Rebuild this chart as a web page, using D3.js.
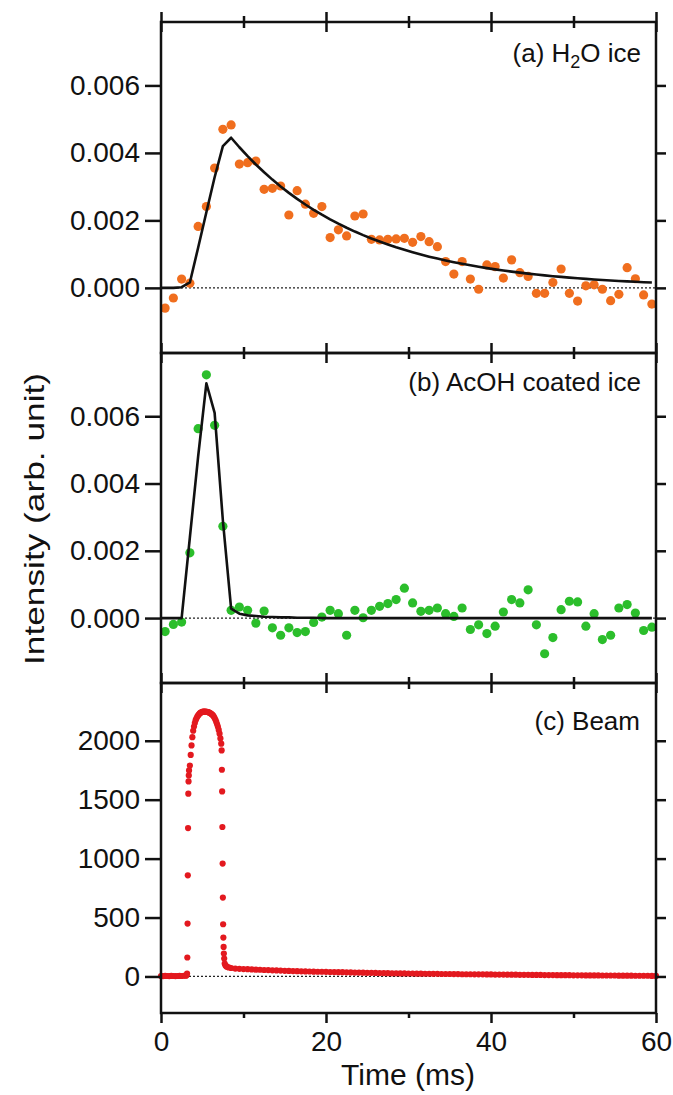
<!DOCTYPE html>
<html>
<head>
<meta charset="utf-8">
<script src="https://cdn.jsdelivr.net/npm/d3@7"></script>
<style>
  body { margin: 0; background: #fff; }
  text { font-family: Arial, "Liberation Sans", sans-serif; fill: #111; }
</style>
</head>
<body>
<div id="chart"></div>
<script>
// Data (time in ms)
const pointTime = [0.5, 1.5, 2.5, 3.5, 4.5, 5.5, 6.5, 7.5, 8.5, 9.5, 10.5, 11.5, 12.5, 13.5, 14.5, 15.5, 16.5, 17.5, 18.5, 19.5,
    20.5, 21.5, 22.5, 23.5, 24.5, 25.5, 26.5, 27.5, 28.5, 29.5, 30.5, 31.5, 32.5, 33.5, 34.5, 35.5, 36.5, 37.5, 38.5, 39.5,
    40.5, 41.5, 42.5, 43.5, 44.5, 45.5, 46.5, 47.5, 48.5, 49.5, 50.5, 51.5, 52.5, 53.5, 54.5, 55.5, 56.5, 57.5, 58.5, 59.5];

// (a) H2O ice
const h2oSignal = [-0.0006, -0.0003, 0.00026, 0.00014, 0.00182, 0.00241, 0.00355, 0.0047, 0.00483, 0.00367,
    0.00371, 0.00376, 0.00292, 0.00295, 0.00302, 0.00216, 0.00288, 0.00248, 0.00221, 0.00241,
    0.00149, 0.00172, 0.00154, 0.00213, 0.00219, 0.00144, 0.00142, 0.00144, 0.00145, 0.00147,
    0.00135, 0.00152, 0.00137, 0.00122, 0.00078, 0.00041, 0.00078, 0.00026, -0.00004, 0.00068,
    0.00063, 0.00029, 0.00083, 0.00045, 0.00034, -0.00016, -0.00016, 0.00016, 0.00056, -0.00016,
    -0.00039, 0.00006, 0.00009, -0.00004, -0.00038, -0.00019, 0.0006, 0.00027, -0.00021, -0.00048];
const h2oFit = [0, 0, 0.00002, 0.00016, 0.00119, 0.00224, 0.00328, 0.0042, 0.00445, 0.004168,
    0.003904, 0.003657, 0.003426, 0.003209, 0.003006, 0.002816, 0.002637, 0.002471, 0.002314, 0.002168,
    0.00203, 0.001902, 0.001782, 0.001669, 0.001563, 0.001464, 0.001372, 0.001285, 0.001203, 0.001127,
    0.001056, 0.000989, 0.000926, 0.000868, 0.000813, 0.000762, 0.000713, 0.000668, 0.000626, 0.000586,
    0.000549, 0.000514, 0.000482, 0.000451, 0.000423, 0.000396, 0.000371, 0.000347, 0.000325, 0.000305,
    0.000286, 0.000267, 0.00025, 0.000235, 0.00022, 0.000206, 0.000193, 0.000181, 0.000169, 0.000159];

// (b) AcOH coated ice
const acohSignal = [-0.0004, -0.00019, -0.00012, 0.00194, 0.00563, 0.00723, 0.00573, 0.00273, 0.00023, 0.00033,
    0.00023, -0.00015, 0.00021, -0.00029, -0.00051, -0.00029, -0.00043, -0.0004, -0.00013, 0.00003,
    0.00023, 0.00013, -0.00051, 0.00023, 0.00001, 0.00023, 0.00035, 0.00043, 0.00055, 0.00089,
    0.00045, 0.0002, 0.00023, 0.0003, 0.00013, 0.00005, 0.0003, -0.00034, -0.0002, -0.00046,
    -0.00024, 0.00018, 0.00055, 0.00045, 0.00084, -0.0002, -0.00106, -0.00058, 0.00025, 0.0005,
    0.00048, -0.00024, 0.00013, -0.00064, -0.00051, 0.0003, 0.0004, 0.00015, -0.00037, -0.00027];
const acohFit = [0, 0, 0, 0.0024, 0.0048, 0.00698, 0.0061, 0.0029, 0.00028, 0.00013,
    0.00008, 0.00006, 0.00004, 0.00003, 0.00002, 0.00002, 0.00001, 0.00001, 0.00001, 0,
    0, 0, 0, 0, 0, 0, 0, 0, 0, 0,
    0, 0, 0, 0, 0, 0, 0, 0, 0, 0,
    0, 0, 0, 0, 0, 0, 0, 0, 0, 0,
    0, 0, 0, 0, 0, 0, 0, 0, 0, 0];

// (c) Beam
const beamTime = [0, 0.25, 0.5, 0.75, 1, 1.25, 1.5, 1.75, 2, 2.25, 2.5, 2.75, 3, 3.1, 3.16, 3.19, 3.22, 3.25, 3.28, 3.31, 3.34, 3.37, 3.4,
    3.5, 3.6, 3.7, 3.8, 3.9, 4.0, 4.1, 4.2, 4.3, 4.4, 4.5, 4.6, 4.7, 4.8, 4.9, 5.0, 5.1, 5.2, 5.3, 5.4, 5.5, 5.6, 5.7, 5.8, 5.9,
    6.0, 6.1, 6.2, 6.3, 6.4, 6.5, 6.6, 6.7, 6.8, 6.9, 7.0, 7.1, 7.2, 7.3,
    7.35, 7.38, 7.41, 7.44, 7.47, 7.5, 7.53, 7.56, 7.59, 7.62, 7.66, 7.72, 7.8, 7.9, 8.0, 8.2, 8.5, 9.0,
    9.5, 10, 10.5, 11, 11.5, 12, 12.5, 13, 13.5, 14, 14.5, 15, 15.5, 16, 16.5, 17, 17.5, 18, 18.5, 19, 19.5, 20,
    20.5, 21, 21.5, 22, 22.5, 23, 23.5, 24, 24.5, 25, 25.5, 26, 26.5, 27, 27.5, 28, 28.5, 29, 29.5, 30,
    30.5, 31, 31.5, 32, 32.5, 33, 33.5, 34, 34.5, 35, 35.5, 36, 36.5, 37, 37.5, 38, 38.5, 39, 39.5, 40,
    40.5, 41, 41.5, 42, 42.5, 43, 43.5, 44, 44.5, 45, 45.5, 46, 46.5, 47, 47.5, 48, 48.5, 49, 49.5, 50,
    50.5, 51, 51.5, 52, 52.5, 53, 53.5, 54, 54.5, 55, 55.5, 56, 56.5, 57, 57.5, 58, 58.5, 59, 59.5, 60];
const beamSignal = [4, 3, 5, 4, 3, 5, 4, 3, 4, 5, 4, 6, 7, 10, 25, 161, 449, 858, 1259, 1551, 1655, 1706, 1748,
    1790, 1880, 1960, 2030, 2085, 2120, 2150, 2175, 2190, 2205, 2215, 2225, 2232, 2238, 2242, 2245, 2247, 2248, 2248, 2247, 2246, 2245, 2243, 2240, 2237,
    2233, 2228, 2222, 2215, 2205, 2192, 2178, 2160, 2140, 2118, 2092, 2060, 2020, 1975,
    1918, 1754, 1570, 1268, 958, 669, 443, 330, 251, 195, 152, 110, 95, 87, 82, 77, 72, 67,
    65, 63, 62, 60, 58, 57, 55, 54, 52, 51, 50, 48, 47, 46, 45, 44, 43, 42, 41, 40, 40, 39,
    38, 37, 36, 36, 35, 34, 33, 33, 32, 31, 31, 30, 29, 29, 28, 27, 27, 26, 26, 25,
    25, 24, 24, 23, 23, 22, 22, 21, 21, 21, 20, 20, 19, 19, 19, 18, 18, 18, 17, 17,
    16, 16, 16, 15, 15, 15, 14, 14, 14, 13, 13, 13, 12, 12, 12, 11, 11, 11, 11, 10,
    10, 10, 9, 9, 9, 9, 8, 8, 8, 8, 7, 7, 7, 7, 6, 6, 6, 6, 5, 5];

// Ticks
const xMajor = [0, 20, 40, 60];
const xMinor = [10, 30, 50];
const iceTicks = [0, 0.002, 0.004, 0.006];
const beamTicks = [0, 500, 1000, 1500, 2000];

// Layout
const width = 673, height = 1095;
const left = 161, right = 656;

const svg = d3.select("#chart").append("svg")
    .attr("width", width)
    .attr("height", height);

const x = d3.scaleLinear().domain([0, 60]).range([left, right]);

const panels = [
    { top: 22, bottom: 353, domain: [-0.00193, 0.00788], ticks: iceTicks, fmt: d3.format(".3f") },
    { top: 353, bottom: 683, domain: [-0.00193, 0.00788], ticks: iceTicks, fmt: d3.format(".3f") },
    { top: 683, bottom: 1013, domain: [-310, 2490], ticks: beamTicks, fmt: d3.format("d") }
];
panels.forEach(p => {
    p.y = d3.scaleLinear().domain(p.domain).range([p.bottom, p.top]);
});

function styleAxis(g) {
    g.select(".domain").remove();
    g.selectAll(".tick line").attr("stroke", "#111").attr("stroke-width", 2.5);
    g.selectAll(".tick text").attr("font-size", 28).attr("fill", "#111");
}

// fit curves start at the left edge
const fitTime = [0].concat(pointTime);

// zero reference lines
panels.forEach(p => {
    svg.append("line")
        .attr("x1", x(0)).attr("x2", x(60))
        .attr("y1", p.y(0)).attr("y2", p.y(0))
        .attr("stroke", "#222")
        .attr("stroke-width", 1.3)
        .attr("stroke-dasharray", "2,2");
});

// (a) points + fit
const pa = panels[0];
svg.append("g").selectAll("circle")
    .data(pointTime)
    .join("circle")
    .attr("cx", d => x(d))
    .attr("cy", (d, i) => pa.y(h2oSignal[i]))
    .attr("r", 4.6)
    .attr("fill", "#F06E1E");

svg.append("path")
    .datum(fitTime)
    .attr("fill", "none")
    .attr("stroke", "#111")
    .attr("stroke-width", 2.6)
    .attr("stroke-linejoin", "round")
    .attr("d", d3.line()
        .x(d => x(d))
        .y((d, i) => pa.y(i === 0 ? 0 : h2oFit[i - 1])));

// (b) points + fit
const pb = panels[1];
svg.append("g").selectAll("circle")
    .data(pointTime)
    .join("circle")
    .attr("cx", d => x(d))
    .attr("cy", (d, i) => pb.y(acohSignal[i]))
    .attr("r", 4.6)
    .attr("fill", "#2BBE2B");

svg.append("path")
    .datum(fitTime)
    .attr("fill", "none")
    .attr("stroke", "#111")
    .attr("stroke-width", 2.6)
    .attr("stroke-linejoin", "round")
    .attr("d", d3.line()
        .x(d => x(d))
        .y((d, i) => pb.y(i === 0 ? 0 : acohFit[i - 1])));

// (c) beam
const pc = panels[2];
svg.append("g").selectAll("circle")
    .data(beamTime)
    .join("circle")
    .attr("cx", d => x(d))
    .attr("cy", (d, i) => pc.y(beamSignal[i]))
    .attr("r", 3.1)
    .attr("fill", "#E3191F");

// frames and axes
panels.forEach((p, k) => {
    svg.append("rect")
        .attr("x", left).attr("y", p.top)
        .attr("width", right - left).attr("height", p.bottom - p.top)
        .attr("fill", "none")
        .attr("stroke", "#111")
        .attr("stroke-width", 2.5);

    svg.append("g")
        .attr("transform", `translate(${left},0)`)
        .call(d3.axisLeft(p.y).tickValues(p.ticks).tickSize(16).tickPadding(5).tickFormat(p.fmt))
        .call(styleAxis);

    svg.append("g")
        .attr("transform", `translate(${right},0)`)
        .call(d3.axisRight(p.y).tickValues(p.ticks).tickSize(10).tickFormat(""))
        .call(styleAxis);

    // crossing ticks on the upper edge
    [d3.axisTop, d3.axisBottom].forEach(ax => {
        svg.append("g")
            .attr("transform", `translate(0,${p.top})`)
            .call(ax(x).tickValues(xMajor).tickSize(10).tickFormat(""))
            .call(styleAxis);
        svg.append("g")
            .attr("transform", `translate(0,${p.top})`)
            .call(ax(x).tickValues(xMinor).tickSize(6).tickFormat(""))
            .call(styleAxis);
    });
});

// bottom axis
svg.append("g")
    .attr("transform", `translate(0,${pc.bottom})`)
    .call(d3.axisBottom(x).tickValues(xMajor).tickSize(10).tickPadding(8).tickFormat(d3.format("d")))
    .call(styleAxis);
svg.append("g")
    .attr("transform", `translate(0,${pc.bottom})`)
    .call(d3.axisBottom(x).tickValues(xMinor).tickSize(5).tickFormat(""))
    .call(styleAxis);

// panel labels
const la = svg.append("text")
    .attr("x", 641).attr("y", 62)
    .attr("text-anchor", "end")
    .attr("font-size", 26);
la.append("tspan").text("(a) H");
la.append("tspan").attr("font-size", 18).attr("dy", 6).text("2");
la.append("tspan").attr("dy", -6).text("O ice");

svg.append("text")
    .attr("x", 641).attr("y", 391)
    .attr("text-anchor", "end")
    .attr("font-size", 26)
    .text("(b) AcOH coated ice");

svg.append("text")
    .attr("x", 640).attr("y", 730)
    .attr("text-anchor", "end")
    .attr("font-size", 26)
    .text("(c) Beam");

// axis titles
svg.append("text")
    .attr("x", 408).attr("y", 1085)
    .attr("text-anchor", "middle")
    .attr("font-size", 30)
    .text("Time (ms)");

svg.append("text")
    .attr("transform", "rotate(-90)")
    .attr("x", -519).attr("y", 44)
    .attr("text-anchor", "middle")
    .attr("font-size", 28)
    .attr("textLength", 292)
    .attr("lengthAdjust", "spacingAndGlyphs")
    .text("Intensity (arb. unit)");
</script>
</body>
</html>
